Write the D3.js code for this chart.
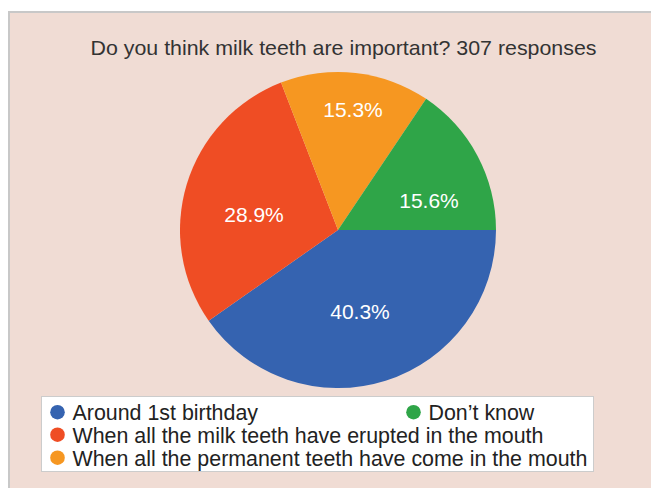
<!DOCTYPE html>
<html>
<head>
<meta charset="utf-8">
<script src="https://cdn.jsdelivr.net/npm/d3@7"></script>
<style>
  html, body { margin: 0; padding: 0; background: #ffffff; }
  svg { display: block; }
  text { font-family: "Liberation Sans", Arial, Helvetica, sans-serif; }
</style>
</head>
<body>
<svg id="chart" width="651" height="489"></svg>
<script>
// ---- data ----
const title = "Do you think milk teeth are important? 307 responses";
const categories = [
  "Around 1st birthday",
  "When all the milk teeth have erupted in the mouth",
  "When all the permanent teeth have come in the mouth",
  "Don\u2019t know"
];
const percents = [40.3, 28.9, 15.3, 15.6];
const colors = ["#3563b0", "#ef4d24", "#f69721", "#2fa548"];

// ---- layout ----
const W = 651, H = 489;
const cx = 338, cy = 230, R = 158;
const svg = d3.select("#chart");

// frame
svg.append("rect").attr("x", 9).attr("y", 12).attr("width", W - 9).attr("height", 476)
  .attr("fill", "#f0dcd4");
svg.append("line").attr("x1", 9).attr("x2", W).attr("y1", 12).attr("y2", 12)
  .attr("stroke", "#c8c8c8").attr("stroke-width", 2);
svg.append("line").attr("x1", 9).attr("x2", 9).attr("y1", 11).attr("y2", 488)
  .attr("stroke", "#c8c8c8").attr("stroke-width", 2);

// title
svg.append("text").attr("x", 90.5).attr("y", 54.5)
  .attr("font-size", 21).attr("fill", "#333333")
  .attr("textLength", 506).attr("lengthAdjust", "spacingAndGlyphs")
  .text(title);

// pie
const data = categories.map((c, i) => ({ name: c, value: percents[i], color: colors[i] }));
const pie = d3.pie().value(d => d.value).sort(null)
  .startAngle(Math.PI / 2).endAngle(Math.PI / 2 + 2 * Math.PI);
const arcs = pie(data);
const arc = d3.arc().innerRadius(0).outerRadius(R);

const g = svg.append("g").attr("transform", `translate(${cx},${cy})`);
g.selectAll("path.slice").data(arcs).enter().append("path")
  .attr("class", "slice")
  .attr("d", arc)
  .attr("fill", d => d.data.color);

// labels: place each text box where its clearance to the slice boundaries is largest
const LFS = 21;
const fmt = d => d.toFixed(1) + "%";
const labels = g.selectAll("text.lab").data(arcs).enter().append("text")
  .attr("class", "lab")
  .attr("font-size", LFS).attr("fill", "#ffffff")
  .attr("text-anchor", "middle")
  .text(d => fmt(d.data.value));

labels.each(function(d) {
  const w = this.getComputedTextLength() + 20;
  const h = LFS * 0.72;
  const a0 = d.startAngle, a1 = d.endAngle;
  const n0 = [Math.cos(a0), Math.sin(a0)];
  const n1 = [-Math.cos(a1), -Math.sin(a1)];
  let best = -Infinity, bx = 0, by = 0;
  for (let x = -R; x <= R; x += 1) {
    for (let y = -R; y <= R; y += 1) {
      const corners = [[x - w/2, y - h/2], [x + w/2, y - h/2], [x - w/2, y + h/2], [x + w/2, y + h/2]];
      let c = Infinity;
      for (const p of corners) {
        c = Math.min(c, R - Math.hypot(p[0], p[1]));
        c = Math.min(c, p[0]*n0[0] + p[1]*n0[1]);
        c = Math.min(c, p[0]*n1[0] + p[1]*n1[1]);
      }
      if (c > best) { best = c; bx = x; by = y; }
    }
  }
  d3.select(this).attr("x", bx).attr("y", by + LFS * 0.36);
});

// legend
const lg = svg.append("g");
lg.append("rect").attr("x", 41.5).attr("y", 396.5).attr("width", 552).attr("height", 75)
  .attr("fill", "#ffffff").attr("stroke", "#cccccc").attr("stroke-width", 1);
const legendPos = [
  { x: 57.5, y: 420 },
  { x: 57.5, y: 442.5 },
  { x: 57.5, y: 465.5 },
  { x: 413.5, y: 420 }
];
const items = lg.selectAll("g.item").data(data).enter().append("g")
  .attr("class", "item")
  .attr("transform", (d, i) => `translate(${legendPos[i].x},${legendPos[i].y})`);
items.append("circle").attr("cx", 0).attr("cy", -7.8).attr("r", 7.3)
  .attr("fill", d => d.color);
items.append("text").attr("x", 15).attr("y", 0)
  .attr("font-size", 21.4).attr("fill", "#222222")
  .text(d => d.name);
</script>
</body>
</html>
